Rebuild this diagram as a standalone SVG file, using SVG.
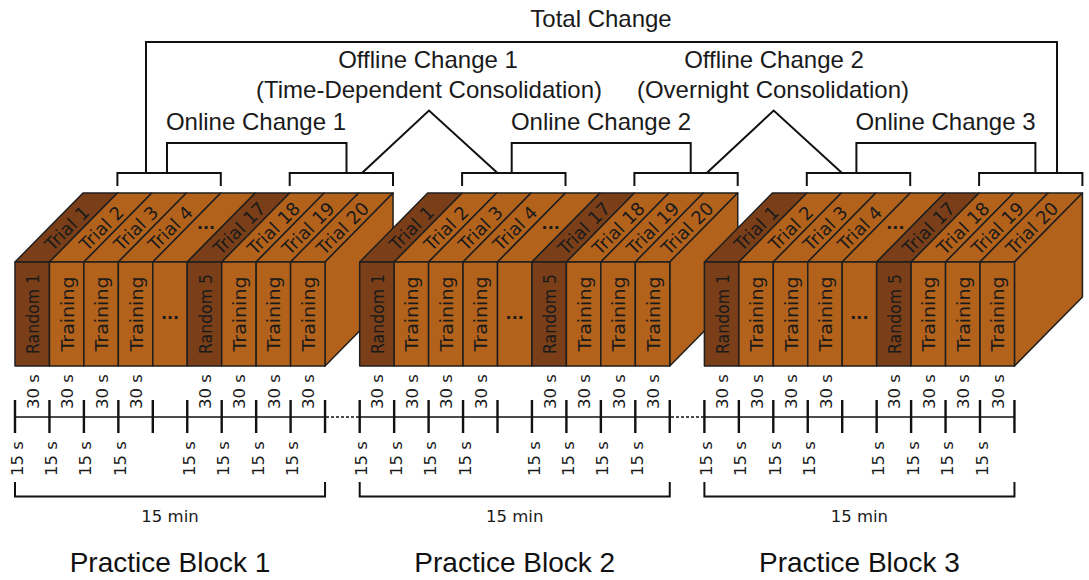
<svg xmlns="http://www.w3.org/2000/svg" width="1089" height="580" viewBox="0 0 1089 580">
<style>
.lt{fill:#b3621c;stroke:#1e1e1e;stroke-width:1.5;stroke-linejoin:round}
.dk{fill:#7a3f19;stroke:#1e1e1e;stroke-width:1.5;stroke-linejoin:round}
.bt{font-family:"DejaVu Sans",Verdana,sans-serif;font-size:18px;fill:#1a1a1a;text-anchor:middle}
.ft{font-family:"DejaVu Sans",Verdana,sans-serif;font-size:18px;fill:#1a1a1a;text-anchor:middle}
.dots{font-family:"DejaVu Sans",Verdana,sans-serif;font-size:16px;font-weight:bold;fill:#1a1a1a;text-anchor:middle}
.tt{font-family:"DejaVu Sans",Verdana,sans-serif;font-size:16.5px;fill:#1a1a1a;text-anchor:middle}
.lab{font-family:"Liberation Sans",Arial,sans-serif;font-size:24px;fill:#1a1a1a;text-anchor:middle}
.pb{font-family:"Liberation Sans",Arial,sans-serif;font-size:28px;fill:#111;text-anchor:middle}
.ln{fill:none;stroke:#111;stroke-width:2}
.axis{fill:none;stroke:#111;stroke-width:1.4}
.tick{fill:none;stroke:#111;stroke-width:2.4}
.dot{fill:none;stroke:#111;stroke-width:1.6;stroke-dasharray:3 2}
</style>
<defs>
<g id="boxShape">
<polygon class="dk" points="0,262 68,193 102.45,193 34.45,262"/>
<polygon class="lt" points="34.45,262 102.45,193 136.9,193 68.9,262"/>
<polygon class="lt" points="68.9,262 136.9,193 171.35,193 103.35,262"/>
<polygon class="lt" points="103.35,262 171.35,193 205.8,193 137.8,262"/>
<polygon class="lt" points="137.8,262 205.8,193 240.25,193 172.25,262"/>
<polygon class="dk" points="172.25,262 240.25,193 274.7,193 206.7,262"/>
<polygon class="lt" points="206.7,262 274.7,193 309.15,193 241.15,262"/>
<polygon class="lt" points="241.15,262 309.15,193 343.6,193 275.6,262"/>
<polygon class="lt" points="275.6,262 343.6,193 378.05,193 310.05,262"/>
<polygon class="lt" points="310.05,262 378.05,193 378.05,297 310.05,366"/>
<rect class="dk" x="0" y="262" width="34.45" height="104"/>
<rect class="lt" x="34.45" y="262" width="34.45" height="104"/>
<rect class="lt" x="68.9" y="262" width="34.45" height="104"/>
<rect class="lt" x="103.35" y="262" width="34.45" height="104"/>
<rect class="lt" x="137.8" y="262" width="34.45" height="104"/>
<rect class="dk" x="172.25" y="262" width="34.45" height="104"/>
<rect class="lt" x="206.7" y="262" width="34.45" height="104"/>
<rect class="lt" x="241.15" y="262" width="34.45" height="104"/>
<rect class="lt" x="275.6" y="262" width="34.45" height="104"/>
</g>
<g id="axisShape">
<line class="axis" x1="0" y1="417" x2="310.05" y2="417"/>
<path class="tick" d="M0,400V433M34.45,400V433M68.9,400V433M103.35,400V433M137.8,400V433M172.25,400V433M206.7,400V433M241.15,400V433M275.6,400V433M310.05,400V433"/>
<path class="ln" d="M0,482V496.5H310.05V482"/>
</g>
</defs>

<g id="block1" transform="translate(15,0)">
<use href="#boxShape"/>
<text class="bt" transform="translate(51.2,227.5) rotate(-45)" y="7.5">Trial 1</text>
<text class="bt" transform="translate(85.7,227.5) rotate(-45)" y="7.5">Trial 2</text>
<text class="bt" transform="translate(120.1,227.5) rotate(-45)" y="7.5">Trial 3</text>
<text class="bt" transform="translate(154.6,227.5) rotate(-45)" y="7.5">Trial 4</text>
<text class="dots" x="191" y="229">...</text>
<text class="bt" transform="translate(223.5,227.5) rotate(-45)" y="7.5">Trial 17</text>
<text class="bt" transform="translate(257.9,227.5) rotate(-45)" y="7.5">Trial 18</text>
<text class="bt" transform="translate(292.4,227.5) rotate(-45)" y="7.5">Trial 19</text>
<text class="bt" transform="translate(326.8,227.5) rotate(-45)" y="7.5">Trial 20</text>
<text class="ft" transform="translate(17.2,314) rotate(-90)" y="7" textLength="80" lengthAdjust="spacingAndGlyphs">Random 1</text>
<text class="ft" transform="translate(51.7,314) rotate(-90)" y="7" textLength="75" lengthAdjust="spacingAndGlyphs">Training</text>
<text class="ft" transform="translate(86.1,314) rotate(-90)" y="7" textLength="75" lengthAdjust="spacingAndGlyphs">Training</text>
<text class="ft" transform="translate(120.6,314) rotate(-90)" y="7" textLength="75" lengthAdjust="spacingAndGlyphs">Training</text>
<text class="dots" x="155" y="319">...</text>
<text class="ft" transform="translate(189.5,314) rotate(-90)" y="7" textLength="80" lengthAdjust="spacingAndGlyphs">Random 5</text>
<text class="ft" transform="translate(223.9,314) rotate(-90)" y="7" textLength="75" lengthAdjust="spacingAndGlyphs">Training</text>
<text class="ft" transform="translate(258.4,314) rotate(-90)" y="7" textLength="75" lengthAdjust="spacingAndGlyphs">Training</text>
<text class="ft" transform="translate(292.8,314) rotate(-90)" y="7" textLength="75" lengthAdjust="spacingAndGlyphs">Training</text>
</g>

<g id="block2" transform="translate(359.7,0)">
<use href="#boxShape"/>
<text class="bt" transform="translate(51.2,227.5) rotate(-45)" y="7.5">Trial 1</text>
<text class="bt" transform="translate(85.7,227.5) rotate(-45)" y="7.5">Trial 2</text>
<text class="bt" transform="translate(120.1,227.5) rotate(-45)" y="7.5">Trial 3</text>
<text class="bt" transform="translate(154.6,227.5) rotate(-45)" y="7.5">Trial 4</text>
<text class="dots" x="191" y="229">...</text>
<text class="bt" transform="translate(223.5,227.5) rotate(-45)" y="7.5">Trial 17</text>
<text class="bt" transform="translate(257.9,227.5) rotate(-45)" y="7.5">Trial 18</text>
<text class="bt" transform="translate(292.4,227.5) rotate(-45)" y="7.5">Trial 19</text>
<text class="bt" transform="translate(326.8,227.5) rotate(-45)" y="7.5">Trial 20</text>
<text class="ft" transform="translate(17.2,314) rotate(-90)" y="7" textLength="80" lengthAdjust="spacingAndGlyphs">Random 1</text>
<text class="ft" transform="translate(51.7,314) rotate(-90)" y="7" textLength="75" lengthAdjust="spacingAndGlyphs">Training</text>
<text class="ft" transform="translate(86.1,314) rotate(-90)" y="7" textLength="75" lengthAdjust="spacingAndGlyphs">Training</text>
<text class="ft" transform="translate(120.6,314) rotate(-90)" y="7" textLength="75" lengthAdjust="spacingAndGlyphs">Training</text>
<text class="dots" x="155" y="319">...</text>
<text class="ft" transform="translate(189.5,314) rotate(-90)" y="7" textLength="80" lengthAdjust="spacingAndGlyphs">Random 5</text>
<text class="ft" transform="translate(223.9,314) rotate(-90)" y="7" textLength="75" lengthAdjust="spacingAndGlyphs">Training</text>
<text class="ft" transform="translate(258.4,314) rotate(-90)" y="7" textLength="75" lengthAdjust="spacingAndGlyphs">Training</text>
<text class="ft" transform="translate(292.8,314) rotate(-90)" y="7" textLength="75" lengthAdjust="spacingAndGlyphs">Training</text>
</g>

<g id="block3" transform="translate(704.4,0)">
<use href="#boxShape"/>
<text class="bt" transform="translate(51.2,227.5) rotate(-45)" y="7.5">Trial 1</text>
<text class="bt" transform="translate(85.7,227.5) rotate(-45)" y="7.5">Trial 2</text>
<text class="bt" transform="translate(120.1,227.5) rotate(-45)" y="7.5">Trial 3</text>
<text class="bt" transform="translate(154.6,227.5) rotate(-45)" y="7.5">Trial 4</text>
<text class="dots" x="191" y="229">...</text>
<text class="bt" transform="translate(223.5,227.5) rotate(-45)" y="7.5">Trial 17</text>
<text class="bt" transform="translate(257.9,227.5) rotate(-45)" y="7.5">Trial 18</text>
<text class="bt" transform="translate(292.4,227.5) rotate(-45)" y="7.5">Trial 19</text>
<text class="bt" transform="translate(326.8,227.5) rotate(-45)" y="7.5">Trial 20</text>
<text class="ft" transform="translate(17.2,314) rotate(-90)" y="7" textLength="80" lengthAdjust="spacingAndGlyphs">Random 1</text>
<text class="ft" transform="translate(51.7,314) rotate(-90)" y="7" textLength="75" lengthAdjust="spacingAndGlyphs">Training</text>
<text class="ft" transform="translate(86.1,314) rotate(-90)" y="7" textLength="75" lengthAdjust="spacingAndGlyphs">Training</text>
<text class="ft" transform="translate(120.6,314) rotate(-90)" y="7" textLength="75" lengthAdjust="spacingAndGlyphs">Training</text>
<text class="dots" x="155" y="319">...</text>
<text class="ft" transform="translate(189.5,314) rotate(-90)" y="7" textLength="80" lengthAdjust="spacingAndGlyphs">Random 5</text>
<text class="ft" transform="translate(223.9,314) rotate(-90)" y="7" textLength="75" lengthAdjust="spacingAndGlyphs">Training</text>
<text class="ft" transform="translate(258.4,314) rotate(-90)" y="7" textLength="75" lengthAdjust="spacingAndGlyphs">Training</text>
<text class="ft" transform="translate(292.8,314) rotate(-90)" y="7" textLength="75" lengthAdjust="spacingAndGlyphs">Training</text>
</g>

<g id="timeline1" transform="translate(15,0)">
<use href="#axisShape"/>
<text class="tt" transform="translate(17.7,391.5) rotate(-90)" y="6">30 s</text>
<text class="tt" transform="translate(52.2,391.5) rotate(-90)" y="6">30 s</text>
<text class="tt" transform="translate(86.6,391.5) rotate(-90)" y="6">30 s</text>
<text class="tt" transform="translate(121.1,391.5) rotate(-90)" y="6">30 s</text>
<text class="tt" transform="translate(190,391.5) rotate(-90)" y="6">30 s</text>
<text class="tt" transform="translate(224.4,391.5) rotate(-90)" y="6">30 s</text>
<text class="tt" transform="translate(258.9,391.5) rotate(-90)" y="6">30 s</text>
<text class="tt" transform="translate(293.3,391.5) rotate(-90)" y="6">30 s</text>
<text class="tt" transform="translate(1.5,458.5) rotate(-90)" y="6">15 s</text>
<text class="tt" transform="translate(36,458.5) rotate(-90)" y="6">15 s</text>
<text class="tt" transform="translate(70.4,458.5) rotate(-90)" y="6">15 s</text>
<text class="tt" transform="translate(104.9,458.5) rotate(-90)" y="6">15 s</text>
<text class="tt" transform="translate(173.8,458.5) rotate(-90)" y="6">15 s</text>
<text class="tt" transform="translate(208.2,458.5) rotate(-90)" y="6">15 s</text>
<text class="tt" transform="translate(242.7,458.5) rotate(-90)" y="6">15 s</text>
<text class="tt" transform="translate(277.1,458.5) rotate(-90)" y="6">15 s</text>
<text class="tt" x="155" y="522">15 min</text>
<text class="pb" x="155" y="572">Practice Block 1</text>
</g>

<g id="timeline2" transform="translate(359.7,0)">
<use href="#axisShape"/>
<text class="tt" transform="translate(17.7,391.5) rotate(-90)" y="6">30 s</text>
<text class="tt" transform="translate(52.2,391.5) rotate(-90)" y="6">30 s</text>
<text class="tt" transform="translate(86.6,391.5) rotate(-90)" y="6">30 s</text>
<text class="tt" transform="translate(121.1,391.5) rotate(-90)" y="6">30 s</text>
<text class="tt" transform="translate(190,391.5) rotate(-90)" y="6">30 s</text>
<text class="tt" transform="translate(224.4,391.5) rotate(-90)" y="6">30 s</text>
<text class="tt" transform="translate(258.9,391.5) rotate(-90)" y="6">30 s</text>
<text class="tt" transform="translate(293.3,391.5) rotate(-90)" y="6">30 s</text>
<text class="tt" transform="translate(1.5,458.5) rotate(-90)" y="6">15 s</text>
<text class="tt" transform="translate(36,458.5) rotate(-90)" y="6">15 s</text>
<text class="tt" transform="translate(70.4,458.5) rotate(-90)" y="6">15 s</text>
<text class="tt" transform="translate(104.9,458.5) rotate(-90)" y="6">15 s</text>
<text class="tt" transform="translate(173.8,458.5) rotate(-90)" y="6">15 s</text>
<text class="tt" transform="translate(208.2,458.5) rotate(-90)" y="6">15 s</text>
<text class="tt" transform="translate(242.7,458.5) rotate(-90)" y="6">15 s</text>
<text class="tt" transform="translate(277.1,458.5) rotate(-90)" y="6">15 s</text>
<text class="tt" x="155" y="522">15 min</text>
<text class="pb" x="155" y="572">Practice Block 2</text>
</g>

<g id="timeline3" transform="translate(704.4,0)">
<use href="#axisShape"/>
<text class="tt" transform="translate(17.7,391.5) rotate(-90)" y="6">30 s</text>
<text class="tt" transform="translate(52.2,391.5) rotate(-90)" y="6">30 s</text>
<text class="tt" transform="translate(86.6,391.5) rotate(-90)" y="6">30 s</text>
<text class="tt" transform="translate(121.1,391.5) rotate(-90)" y="6">30 s</text>
<text class="tt" transform="translate(190,391.5) rotate(-90)" y="6">30 s</text>
<text class="tt" transform="translate(224.4,391.5) rotate(-90)" y="6">30 s</text>
<text class="tt" transform="translate(258.9,391.5) rotate(-90)" y="6">30 s</text>
<text class="tt" transform="translate(293.3,391.5) rotate(-90)" y="6">30 s</text>
<text class="tt" transform="translate(1.5,458.5) rotate(-90)" y="6">15 s</text>
<text class="tt" transform="translate(36,458.5) rotate(-90)" y="6">15 s</text>
<text class="tt" transform="translate(70.4,458.5) rotate(-90)" y="6">15 s</text>
<text class="tt" transform="translate(104.9,458.5) rotate(-90)" y="6">15 s</text>
<text class="tt" transform="translate(173.8,458.5) rotate(-90)" y="6">15 s</text>
<text class="tt" transform="translate(208.2,458.5) rotate(-90)" y="6">15 s</text>
<text class="tt" transform="translate(242.7,458.5) rotate(-90)" y="6">15 s</text>
<text class="tt" transform="translate(277.1,458.5) rotate(-90)" y="6">15 s</text>
<text class="tt" x="155" y="522">15 min</text>
<text class="pb" x="155" y="572">Practice Block 3</text>
</g>

<g id="connectors">
<line class="dot" x1="326" y1="417" x2="359" y2="417"/>
<line class="dot" x1="671" y1="417" x2="704" y2="417"/>
<path class="ln" d="M117.4,186V173H220.8V186M289.7,186V173H393V186"/>
<path class="ln" d="M462.1,186V173H565.5V186M634.4,186V173H737.7V186"/>
<path class="ln" d="M806.8,186V173H910.2V186M979.1,186V173H1082.4V186"/>
<path class="ln" d="M146,173V42H1057V173"/>
<path class="ln" d="M167,173V143H346.5V173"/>
<path class="ln" d="M511.7,173V143H690.7V173"/>
<path class="ln" d="M856.4,173V143H1035.4V173"/>
<path class="ln" d="M362,173L429,110.5L497.5,173"/>
<path class="ln" d="M706.7,173L773.7,110.5L842,173"/>
</g>

<g id="labels">
<text class="lab" x="601" y="27">Total Change</text>
<text class="lab" x="428" y="68">Offline Change 1</text>
<text class="lab" x="429" y="98">(Time-Dependent Consolidation)</text>
<text class="lab" x="774" y="68">Offline Change 2</text>
<text class="lab" x="773" y="98">(Overnight Consolidation)</text>
<text class="lab" x="256" y="130">Online Change 1</text>
<text class="lab" x="601" y="130">Online Change 2</text>
<text class="lab" x="945.5" y="130">Online Change 3</text>
</g>
</svg>
